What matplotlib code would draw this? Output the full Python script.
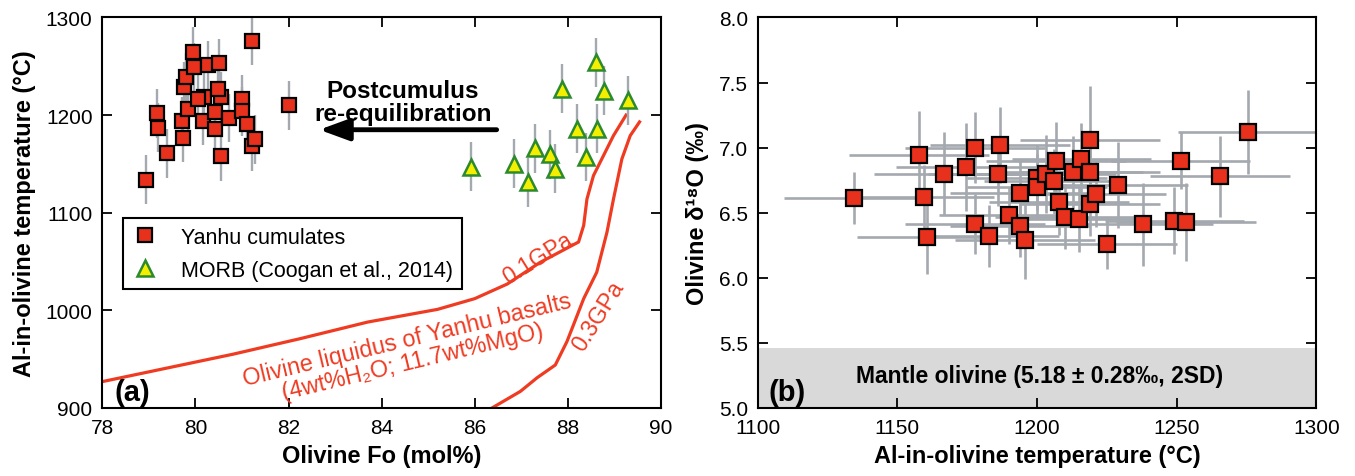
import matplotlib
matplotlib.use('Agg')
import matplotlib.pyplot as plt
from matplotlib.lines import Line2D

plt.rcParams['font.family'] = ['Liberation Sans', 'DejaVu Sans']

# ---- panel (a): Fo vs Al-in-olivine temperature ----
fo_yanhu = [78.93, 79.18, 79.20, 79.38, 79.73, 79.71, 79.76, 79.80, 79.94, 79.96,
            80.27, 80.50, 80.19, 80.16, 80.43, 80.41, 80.54, 80.48, 80.72, 80.55,
            81.00, 80.99, 81.10, 81.22, 81.21, 81.28, 82.00, 79.84, 80.05]
t_yanhu = [1134, 1202, 1187, 1161, 1177, 1194, 1229, 1239, 1265, 1249,
           1251, 1253, 1219, 1194, 1186, 1203, 1219, 1227, 1197, 1158,
           1216, 1204, 1191, 1276, 1168, 1175, 1210, 1206, 1216]

fo_morb = [85.93, 86.84, 87.15, 87.29, 87.61, 87.72, 87.87, 88.20, 88.40, 88.63,
           88.60, 88.77, 89.29]
t_morb = [1147, 1150, 1131, 1166, 1160, 1145, 1227, 1186, 1157, 1186,
          1254, 1225, 1215]

t_err_a = 25  # 2SD on temperature

# olivine liquidus curves of Yanhu basalts
fo_liq_01 = [78.0, 79.3, 80.8, 82.25, 83.7, 85.2, 86.0, 86.7, 87.4, 88.23,
             88.34, 88.41, 88.55, 88.76, 88.98, 89.25]
t_liq_01 = [927, 940, 955, 971, 988, 1001, 1012, 1027, 1049, 1070,
            1087, 1114, 1138, 1158, 1179, 1200]
fo_liq_03 = [86.37, 86.98, 87.34, 87.73, 87.98, 88.12, 88.34, 88.62, 88.84, 88.98,
             89.16, 89.34, 89.54]
t_liq_03 = [900, 917, 931, 944, 968, 985, 1012, 1039, 1080, 1114,
            1155, 1179, 1193]

# ---- panel (b): temperature vs olivine d18O ----
t_b = [1134.5, 1157.7, 1159.7, 1160.7, 1166.7, 1174.5, 1177.7, 1177.7, 1182.7, 1186.8,
       1185.9, 1189.9, 1194.0, 1194.0, 1195.8, 1200.0, 1200.0, 1203.3, 1206.0, 1206.9,
       1207.9, 1209.9, 1212.9, 1215.0, 1215.9, 1218.9, 1218.9, 1218.9, 1221.0, 1225.1,
       1229.0, 1238.0, 1249.2, 1251.4, 1253.4, 1265.4, 1275.4]
d18o_b = [6.61, 6.94, 6.62, 6.31, 6.80, 6.85, 7.00, 6.41, 6.32, 7.02,
          6.80, 6.48, 6.65, 6.40, 6.29, 6.77, 6.70, 6.80, 6.74, 6.90,
          6.58, 6.47, 6.81, 6.45, 6.91, 7.06, 6.81, 6.57, 6.64, 6.26,
          6.71, 6.41, 6.44, 6.90, 6.43, 6.78, 7.12]
d18o_err = [0.20, 0.34, 0.25, 0.28, 0.32, 0.34, 0.27, 0.23, 0.24, 0.29,
            0.25, 0.22, 0.25, 0.24, 0.30, 0.25, 0.25, 0.30, 0.25, 0.30,
            0.25, 0.25, 0.28, 0.25, 0.28, 0.41, 0.30, 0.25, 0.25, 0.19,
            0.33, 0.32, 0.26, 0.22, 0.30, 0.31, 0.32]
t_err_b = 25
mantle_lo, mantle_hi = 5.0, 5.46

RED = '#e8311d'
LINE_RED = '#ef3b22'
GREY = '#a4a9af'
YELLOW = '#f4ef00'
GREEN = '#2b8a2e'

fig = plt.figure(figsize=(13.55, 4.77), dpi=100)
ax1 = fig.add_axes([0.0755, 0.1426, 0.4123, 0.8187])
ax2 = fig.add_axes([0.5592, 0.1426, 0.4123, 0.8187])

for ax in (ax1, ax2):
    ax.tick_params(direction='in', length=7, width=1.3, top=True, right=True,
                   labelsize=15, pad=7)
    for s in ax.spines.values():
        s.set_linewidth(1.5)

# panel (a)
ax1.plot(fo_liq_01, t_liq_01, color=LINE_RED, lw=2.3, zorder=1)
ax1.plot(fo_liq_03, t_liq_03, color=LINE_RED, lw=2.3, zorder=1)
ax1.errorbar(fo_yanhu, t_yanhu, yerr=t_err_a, fmt='none', ecolor=GREY, elinewidth=1.7, zorder=2)
ax1.errorbar(fo_morb, t_morb, yerr=t_err_a, fmt='none', ecolor=GREY, elinewidth=1.7, zorder=2)
ax1.plot(fo_yanhu, t_yanhu, 's', ms=10.5, mfc=RED, mec='k', mew=1.6, ls='none', zorder=3)
ax1.plot(fo_morb, t_morb, '^', ms=12, mfc=YELLOW, mec=GREEN, mew=1.8, ls='none', zorder=3)

ax1.set_xlim(78, 90)
ax1.set_ylim(900, 1300)
ax1.set_xticks(range(78, 91, 2))
ax1.set_yticks(range(900, 1301, 100))
ax1.set_xlabel('Olivine Fo (mol%)', fontsize=17, fontweight='bold', labelpad=5)
ax1.set_ylabel('Al-in-olivine temperature (°C)', fontsize=17, fontweight='bold', labelpad=7)

ax1.annotate('', xy=(82.66, 1185), xytext=(86.47, 1185),
             arrowprops=dict(arrowstyle='-|>,head_length=0.6,head_width=0.22',
                             lw=3.5, color='k', mutation_scale=30,
                             shrinkA=0, shrinkB=0))
ax1.text(84.46, 1213, 'Postcumulus\nre-equilibration', ha='center', va='center',
         fontsize=17.5, fontweight='bold', linespacing=1.0)

ax1.text(87.36, 1054, '0.1GPa', color=LINE_RED, fontsize=16.5, rotation=32,
         ha='center', va='center', rotation_mode='anchor')
ax1.text(88.65, 995, '0.3GPa', color=LINE_RED, fontsize=16.5, rotation=58,
         ha='center', va='center', rotation_mode='anchor')
ax1.text(84.6, 959, 'Olivine liquidus of Yanhu basalts\n(4wt%H₂O; 11.7wt%MgO)',
         color=LINE_RED, fontsize=16.8, rotation=13.5, ha='center', va='center',
         rotation_mode='anchor', linespacing=1.0)
ax1.text(0.022, 0.004, '(a)', transform=ax1.transAxes, fontsize=21,
         fontweight='bold', ha='left', va='bottom')

handles = [Line2D([], [], marker='s', ls='none', ms=10.5, mfc=RED, mec='k', mew=1.6),
           Line2D([], [], marker='^', ls='none', ms=12, mfc=YELLOW, mec=GREEN, mew=1.8)]
leg = ax1.legend(handles, ['Yanhu cumulates', 'MORB (Coogan et al., 2014)'],
                 loc='upper left', bbox_to_anchor=(0.037, 0.486), fontsize=15.5,
                 fancybox=False, edgecolor='k', framealpha=1, borderpad=0.4,
                 handlelength=1.2, handletextpad=1.1, labelspacing=0.55,
                 borderaxespad=0)
leg.get_frame().set_linewidth(1.5)

# panel (b)
ax2.axhspan(mantle_lo, mantle_hi, color='#d9d9d9', zorder=0, lw=0)
ax2.errorbar(t_b, d18o_b, xerr=t_err_b, yerr=d18o_err, fmt='none', ecolor=GREY,
             elinewidth=1.9, zorder=2)
ax2.plot(t_b, d18o_b, 's', ms=11, mfc=RED, mec='k', mew=1.6, ls='none', zorder=3)
ax2.set_xlim(1100, 1300)
ax2.set_ylim(5.0, 8.0)
ax2.set_xticks(range(1100, 1301, 50))
ax2.set_yticks([5.0, 5.5, 6.0, 6.5, 7.0, 7.5, 8.0])
ax2.set_yticklabels([f'{v:.1f}' for v in [5.0, 5.5, 6.0, 6.5, 7.0, 7.5, 8.0]])
ax2.set_xlabel('Al-in-olivine temperature (°C)', fontsize=17, fontweight='bold', labelpad=5)
ax2.set_ylabel('Olivine δ¹⁸O (‰)', fontsize=17, fontweight='bold', labelpad=7)
ax2.text(1201, 5.25, 'Mantle olivine (5.18 ± 0.28‰, 2SD)', ha='center', va='center',
         fontsize=16.5, fontweight='bold')
ax2.text(0.02, 0.004, '(b)', transform=ax2.transAxes, fontsize=21,
         fontweight='bold', ha='left', va='bottom')

fig.savefig('out.png', dpi=100)
